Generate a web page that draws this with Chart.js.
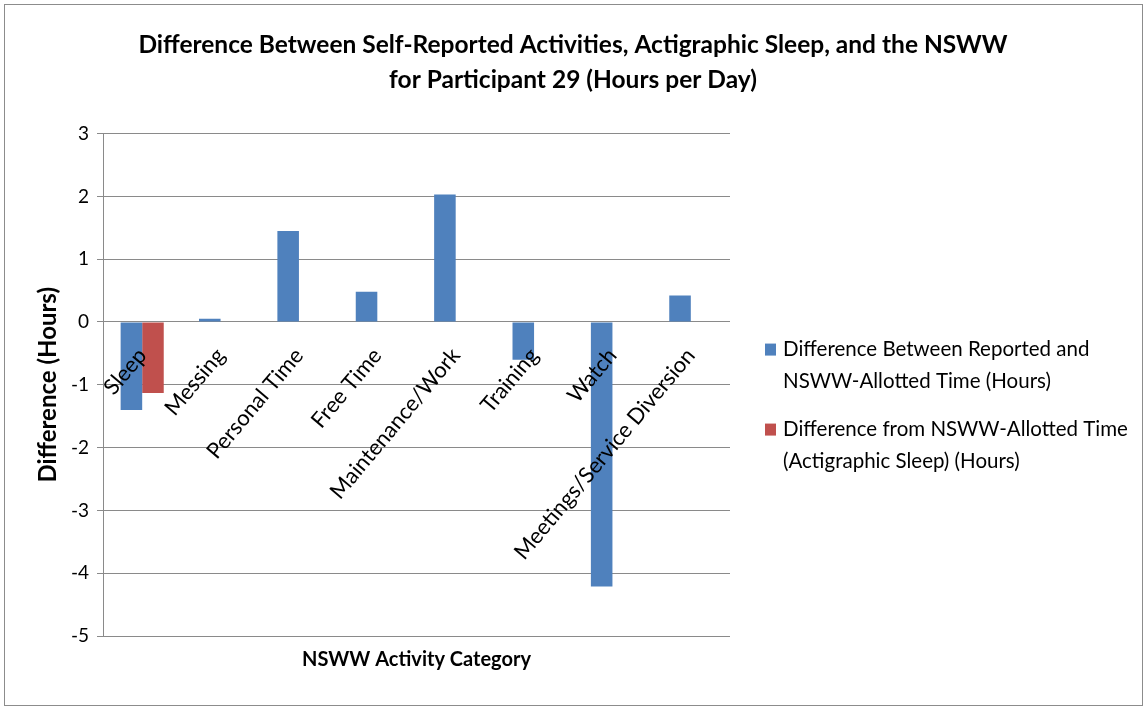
<!DOCTYPE html>
<html>
<head>
<meta charset="utf-8">
<script src="https://cdn.jsdelivr.net/npm/chart.js@4"></script>
<style>
  html, body { margin: 0; padding: 0; background: #fff; }
  #wrap { position: relative; width: 1146px; height: 708px; }
  #frame { position: absolute; left: 4px; top: 4px; width: 1137px; height: 700px; border: 1px solid #8c8c8c; pointer-events: none; }
</style>
</head>
<body>
<div id="wrap">
  <canvas id="myChart" width="1146" height="708"></canvas>
  <div id="frame"></div>
</div>
<script>
const ctx = document.getElementById('myChart');

// categories and values
const categories = ['Sleep', 'Messing', 'Personal Time', 'Free Time', 'Maintenance/Work', 'Training', 'Watch', 'Meetings/Service Diversion'];
const reportedDiff = [-1.4, 0.05, 1.45, 0.48, 2.03, -0.6, -4.21, 0.42];
const actigraphDiff = [-1.13, null, null, null, null, null, null, null];
const legendNames = [
  ['Difference Between Reported and', 'NSWW-Allotted Time (Hours)'],
  ['Difference from NSWW-Allotted Time', '(Actigraphic Sleep) (Hours)']
];
const titleLines = ['Difference Between Self-Reported Activities, Actigraphic Sleep, and the NSWW', 'for Participant 29 (Hours per Day)'];

const FONT = 'Lato, "Open Sans", sans-serif';
const gridGray = '#8a8a8a';

// legend drawn by hand so the two-line entries sit like the original
const sideLegend = {
  id: 'sideLegend',
  afterDraw(chart) {
    const c = chart.ctx;
    const area = chart.chartArea;
    const x = area.right + 35;
    let y = area.top + 216;
    c.save();
    c.font = '20.5px ' + FONT;
    c.textBaseline = 'middle';
    chart.data.datasets.forEach((ds, i) => {
      c.fillStyle = ds.backgroundColor;
      c.fillRect(x, y - 6, 11, 12);
      c.fillStyle = '#000';
      legendNames[i].forEach((line, j) => {
        c.fillText(line, x + 18, y + j * 32);
      });
      y += 80;
    });
    c.restore();
  }
};

new Chart(ctx, {
  type: 'bar',
  data: {
    labels: categories,
    datasets: [{
      label: legendNames[0].join(' '),
      data: reportedDiff,
      backgroundColor: '#4f81bd',
      categoryPercentage: 0.55,
      barPercentage: 1.0
    }, {
      label: legendNames[1].join(' '),
      data: actigraphDiff,
      backgroundColor: '#c0504d',
      categoryPercentage: 0.55,
      barPercentage: 1.0
    }]
  },
  options: {
    responsive: false,
    animation: false,
    layout: {
      padding: { left: 30, right: 30, top: 10, bottom: 20 }
    },
    plugins: {
      title: {
        display: true,
        text: titleLines,
        color: '#000',
        font: { family: FONT, size: 24.5, weight: 'bold', lineHeight: 1.42 },
        padding: { top: 18, bottom: 36 }
      },
      legend: { display: false },
      tooltip: { enabled: false }
    },
    scales: {
      x: {
        position: { y: 0 },
        grid: { display: false, drawTicks: false },
        border: { display: false },
        ticks: {
          autoSkip: false,
          minRotation: 50,
          maxRotation: 50,
          padding: 21,
          z: 1,
          color: '#000',
          font: { family: FONT, size: 22 }
        },
        afterFit: function(scale) {
          scale.height = 0;
          scale.paddingLeft = 0;
          scale.paddingRight = 0;
          scale.paddingTop = 0;
          scale.paddingBottom = 0;
        }
      },
      x2: {
        type: 'category',
        position: 'bottom',
        grid: { display: false, drawTicks: false },
        border: { display: false },
        ticks: { display: false },
        title: {
          display: true,
          text: 'NSWW Activity Category',
          color: '#000',
          font: { family: FONT, size: 20, weight: 'bold', lineHeight: 1.2 },
          padding: { top: 12, bottom: 16 }
        }
      },
      y: {
        min: -5,
        max: 3,
        afterFit: function(scale) { scale.width = 73; },
        ticks: {
          stepSize: 1,
          color: '#000',
          padding: 8,
          font: { family: FONT, size: 19 }
        },
        grid: {
          color: gridGray,
          tickLength: 6,
          tickColor: gridGray
        },
        border: { color: gridGray },
        title: {
          display: true,
          text: 'Difference (Hours)',
          color: '#000',
          font: { family: FONT, size: 24, weight: 'bold', lineHeight: 1.2 },
          padding: { top: 4, bottom: 4 }
        }
      },
      // empty right-hand axis that keeps room for the legend
      y2: {
        type: 'linear',
        position: 'right',
        grid: { display: false, drawTicks: false },
        border: { display: false },
        ticks: { display: false },
        afterFit: function(scale) { scale.width = 386; }
      }
    }
  },
  plugins: [sideLegend]
});
</script>
</body>
</html>
